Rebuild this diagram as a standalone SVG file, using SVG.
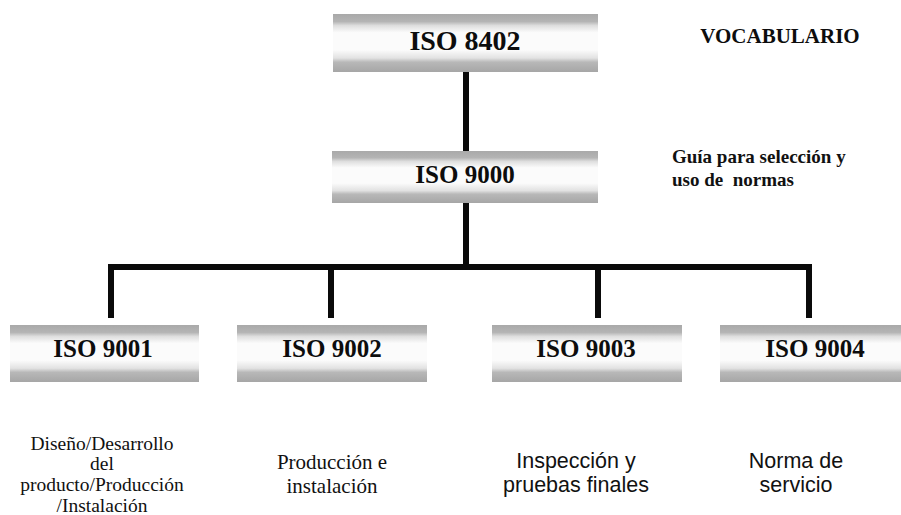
<svg xmlns="http://www.w3.org/2000/svg" width="901" height="515" viewBox="0 0 901 515">
<style>
.t{font-family:"Liberation Serif","Times New Roman",serif;font-weight:bold;fill:#0d0d0d;text-anchor:middle}
.big{font-size:28px}
.mid{font-size:25px}
.lbl{font-family:"Liberation Serif","Times New Roman",serif;font-weight:bold;fill:#111;font-size:19px}
.ds{font-family:"Liberation Serif","Times New Roman",serif;fill:#111;font-size:19.5px;text-anchor:middle}
.ds2{font-family:"Liberation Serif","Times New Roman",serif;fill:#111;font-size:21px;text-anchor:middle}
.dsa{font-family:"Liberation Sans",Arial,sans-serif;fill:#111;font-size:21.5px;text-anchor:middle}
.box{fill:url(#band)}
.conn{stroke:#0a0a0a;stroke-width:6;fill:none;stroke-linecap:butt;stroke-linejoin:miter}
</style>
<defs>
<linearGradient id="band" x1="0" y1="0" x2="0" y2="1">
<stop offset="0" stop-color="#a9a9a9"/>
<stop offset="0.13" stop-color="#b4b4b4"/>
<stop offset="0.2" stop-color="#dedede"/>
<stop offset="0.32" stop-color="#fbfbfb"/>
<stop offset="0.62" stop-color="#fbfbfb"/>
<stop offset="0.76" stop-color="#e2e2e2"/>
<stop offset="0.83" stop-color="#b8b8b8"/>
<stop offset="1" stop-color="#a6a6a6"/>
</linearGradient>
</defs>
<rect width="901" height="515" fill="#fff"/>
<g id="connectors">
<path class="conn" d="M466 72 V152"/>
<path class="conn" d="M466 203 V267"/>
<path class="conn" d="M111 318 V267 H812"/>
<path class="conn" d="M331 267 V318"/>
<path class="conn" d="M598 267 V318"/>
<path class="conn" d="M809 267 V318"/>
</g>
<g id="iso8402">
<rect class="box" x="333" y="14" width="265" height="58"/>
<text class="t big" x="465" y="50">ISO 8402</text>
</g>
<g id="vocabulario">
<text class="t" style="font-size:21px" x="780" y="43">VOCABULARIO</text>
</g>
<g id="iso9000">
<rect class="box" x="332" y="151" width="266" height="52"/>
<text class="t mid" x="465" y="183">ISO 9000</text>
</g>
<g id="guia">
<text class="lbl" x="672" y="163">Guía para selección y</text>
<text class="lbl" x="672" y="186" xml:space="preserve">uso de  normas</text>
</g>
<g id="iso9001">
<rect class="box" x="10" y="325" width="189" height="57"/>
<text class="t mid" x="103" y="357">ISO 9001</text>
<text class="ds" x="102" y="450">Diseño/Desarrollo</text>
<text class="ds" x="102" y="470">del</text>
<text class="ds" x="102" y="491">producto/Producción</text>
<text class="ds" x="102" y="512">/Instalación</text>
</g>
<g id="iso9002">
<rect class="box" x="237" y="325" width="190" height="57"/>
<text class="t mid" x="332" y="357">ISO 9002</text>
<text class="ds2" x="332" y="469">Producción e</text>
<text class="ds2" x="332" y="493">instalación</text>
</g>
<g id="iso9003">
<rect class="box" x="492" y="325" width="190" height="57"/>
<text class="t mid" x="586" y="357">ISO 9003</text>
<text class="dsa" x="576" y="468">Inspección y</text>
<text class="dsa" x="576" y="492">pruebas finales</text>
</g>
<g id="iso9004">
<rect class="box" x="720" y="325" width="190" height="57"/>
<text class="t mid" x="815" y="357">ISO 9004</text>
<text class="dsa" x="796" y="468">Norma de</text>
<text class="dsa" x="796" y="492">servicio</text>
</g>
</svg>
